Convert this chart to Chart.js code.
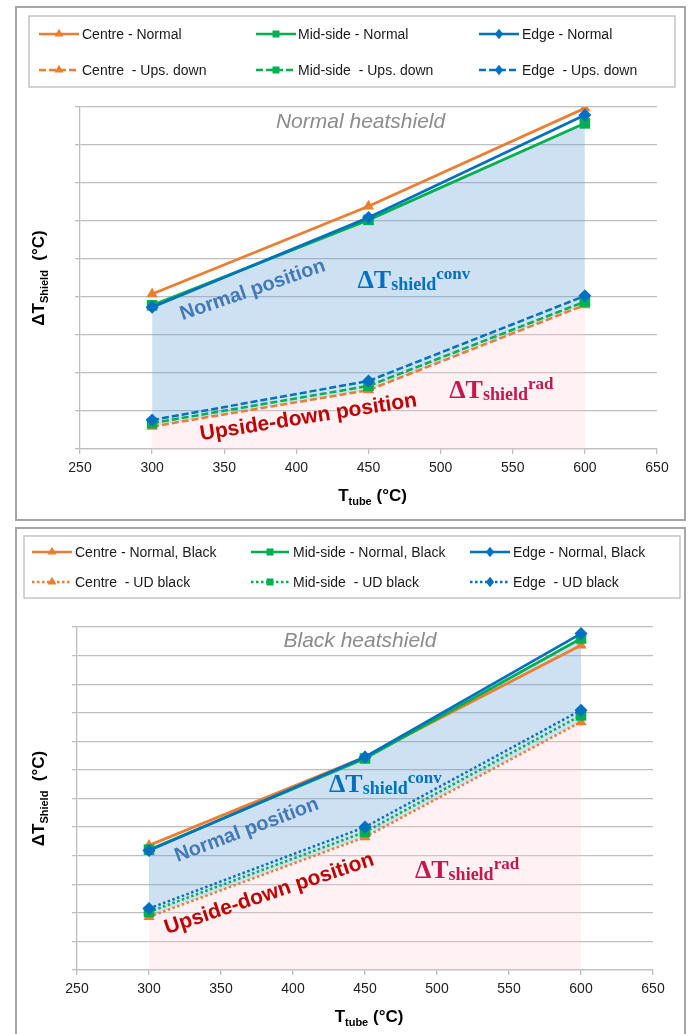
<!DOCTYPE html>
<html>
<head>
<meta charset="utf-8">
<script src="https://cdn.jsdelivr.net/npm/chart.js@4.4.1/dist/chart.umd.min.js"></script>
<style>
html, body { margin: 0; padding: 0; background: #fff; }
.wrap { position: absolute; left: 0; width: 690px; }
#w1 { top: 0; height: 524px; }
#w2 { top: 524px; height: 510px; }
</style>
</head>
<body>
<div class="wrap" id="w1"><canvas id="topChart"></canvas></div>
<div class="wrap" id="w2"><canvas id="botChart"></canvas></div>
<script>
const tubeTemps = [300, 450, 600];
const xTicks = [250, 300, 350, 400, 450, 500, 550, 600, 650];

// normal heatshield (y in gridline units, axis has no labels)
const normalCentre = [4.08, 6.39, 8.97];
const normalMid = [3.78, 6.03, 8.57];
const normalEdge = [3.73, 6.09, 8.79];
const upsCentre = [0.59, 1.55, 3.79];
const upsMid = [0.68, 1.66, 3.88];
const upsEdge = [0.76, 1.79, 4.03];
const topLabels = ['Centre - Normal', 'Mid-side - Normal', 'Edge - Normal',
  'Centre  - Ups. down', 'Mid-side  - Ups. down', 'Edge  - Ups. down'];

// black heatshield
const blackCentre = [4.36, 7.45, 11.36];
const blackMid = [4.21, 7.40, 11.60];
const blackEdge = [4.18, 7.45, 11.77];
const udCentre = [1.86, 4.65, 8.68];
const udMid = [2.03, 4.83, 8.91];
const udEdge = [2.15, 5.00, 9.09];
const botLabels = ['Centre - Normal, Black', 'Mid-side - Normal, Black', 'Edge - Normal, Black',
  'Centre  - UD black', 'Mid-side  - UD black', 'Edge  - UD black'];

const colors = ['#ED7D31', '#00B050', '#0070C0'];
const markers = ['triangle', 'rect', 'rectRot'];
const radii = [6.5, 7.5, 6.5];
const blueFill = 'rgba(91,155,213,0.30)';
const pinkFill = 'rgba(255,200,210,0.25)';
const SANS = '"Liberation Sans", Arial, sans-serif';
const SERIF = '"Liberation Serif", "Times New Roman", serif';
const X_AXIS_H = 40;

function drawMarker(ctx, style, x, y, r, color) {
  ctx.fillStyle = color;
  ctx.beginPath();
  if (style === 'triangle') {
    ctx.moveTo(x, y - r);
    ctx.lineTo(x + r * 0.87, y + r * 0.5);
    ctx.lineTo(x - r * 0.87, y + r * 0.5);
  } else if (style === 'rect') {
    ctx.rect(x - r * 0.7, y - r * 0.7, r * 1.4, r * 1.4);
  } else {
    ctx.moveTo(x, y - r);
    ctx.lineTo(x + r * 0.8, y);
    ctx.lineTo(x, y + r);
    ctx.lineTo(x - r * 0.8, y);
  }
  ctx.closePath();
  ctx.fill();
}

// draw a run of text pieces (for sub/superscripts)
function richText(ctx, parts, x, y, align) {
  let total = 0;
  parts.forEach(p => { ctx.font = p.font; p.w = ctx.measureText(p.t).width; total += p.w; });
  let cx = align === 'center' ? x - total / 2 : x;
  ctx.textAlign = 'left';
  ctx.textBaseline = 'alphabetic';
  parts.forEach(p => {
    ctx.font = p.font;
    ctx.fillText(p.t, cx, y + (p.dy || 0));
    cx += p.w;
  });
}

function deltaT(name) {
  return [
    {t: 'ΔT', font: 'bold 26px ' + SERIF},
    {t: 'shield', font: 'bold 18px ' + SERIF, dy: 2},
    {t: name, font: 'bold 17px ' + SERIF, dy: -9}
  ];
}

function decoPlugin(spec) {
  return {
    id: 'deco',
    beforeDraw(chart) {
      const ctx = chart.ctx;
      ctx.save();
      ctx.strokeStyle = '#a6a6a6';
      ctx.lineWidth = 2;
      ctx.strokeRect(...spec.frame);
      ctx.strokeStyle = '#c4c4c4';
      ctx.lineWidth = 1.5;
      ctx.strokeRect(...spec.legendBox);
      // legend entries
      chart.data.datasets.forEach((ds, i) => {
        const col = spec.cols[i % 3];
        const y = spec.rows[Math.floor(i / 3)];
        ctx.strokeStyle = ds.borderColor;
        ctx.lineWidth = 2.5;
        ctx.setLineDash(ds.borderDash || []);
        ctx.beginPath();
        ctx.moveTo(col[0], y);
        ctx.lineTo(col[1], y);
        ctx.stroke();
        ctx.setLineDash([]);
        drawMarker(ctx, ds.pointStyle, (col[0] + col[1]) / 2, y, ds.pointStyle === 'rect' ? 5 : 5.2, ds.borderColor);
        ctx.fillStyle = '#1a1a1a';
        ctx.font = '14px ' + SANS;
        ctx.textAlign = 'left';
        ctx.textBaseline = 'middle';
        ctx.fillText(ds.label, col[2], y + 1);
      });
      ctx.restore();
    },
    afterDraw(chart) {
      const ctx = chart.ctx;
      const xs = chart.scales.x, ys = chart.scales.y, area = chart.chartArea;
      ctx.save();
      // axis titles
      ctx.fillStyle = '#000';
      richText(ctx, [
        {t: 'T', font: 'bold 17px ' + SANS},
        {t: 'tube', font: 'bold 11px ' + SANS, dy: 4},
        {t: ' (°C)', font: 'bold 17px ' + SANS}
      ], (area.left + area.right) / 2 + 4, area.bottom + 52, 'center');
      ctx.save();
      ctx.translate(44, (area.top + area.bottom) / 2);
      ctx.rotate(-Math.PI / 2);
      richText(ctx, [
        {t: 'ΔT', font: 'bold 17px ' + SANS},
        {t: 'Shield', font: 'bold 11px ' + SANS, dy: 4},
        {t: '  (°C)', font: 'bold 17px ' + SANS}
      ], 0, 0, 'center');
      ctx.restore();
      // annotations
      spec.notes.forEach(n => {
        const px = xs.getPixelForValue(n.x), py = ys.getPixelForValue(n.y);
        ctx.save();
        ctx.translate(px, py);
        ctx.rotate((n.rot || 0) * Math.PI / 180);
        ctx.fillStyle = n.color;
        if (n.parts) {
          richText(ctx, n.parts, 0, 0, 'left');
        } else {
          ctx.font = n.font;
          ctx.textAlign = 'center';
          ctx.textBaseline = 'middle';
          ctx.fillText(n.text, 0, 0);
        }
        ctx.restore();
      });
      ctx.restore();
    }
  };
}

function buildChart(id, spec) {
  const datasets = spec.series.map((s, i) => ({
    label: spec.labels[i],
    data: tubeTemps.map((t, k) => ({x: t, y: s[k]})),
    borderColor: colors[i % 3],
    backgroundColor: colors[i % 3],
    pointBackgroundColor: colors[i % 3],
    pointBorderColor: colors[i % 3],
    pointBorderWidth: 0,
    pointStyle: markers[i % 3],
    pointRadius: radii[i % 3],
    pointHoverRadius: radii[i % 3],
    borderWidth: i < 3 ? 2.75 : 2.5,
    borderDash: i < 3 ? [] : spec.dash,
    tension: 0,
    fill: i === 1 ? {target: 3, above: blueFill, below: blueFill}
        : i === 3 ? {target: 'origin', above: pinkFill, below: pinkFill} : false,
    order: 6 - i
  }));

  return new Chart(document.getElementById(id), {
    type: 'line',
    data: {datasets},
    options: {
      responsive: true,
      maintainAspectRatio: false,
      animation: false,
      layout: {padding: spec.padding},
      plugins: {
        legend: {display: false},
        tooltip: {enabled: false},
        filler: {drawTime: 'beforeDatasetsDraw'}
      },
      scales: {
        x: {
          type: 'linear',
          min: 250, max: 650,
          afterBuildTicks: axis => { axis.ticks = xTicks.map(v => ({value: v})); },
          afterFit: axis => { axis.height = X_AXIS_H; },
          ticks: {color: '#222', font: {family: SANS, size: 14}, padding: 6, autoSkip: false, maxRotation: 0},
          grid: {drawOnChartArea: false, drawTicks: true, tickLength: 5, color: '#bfbfbf', lineWidth: 1.3},
          border: {color: '#bfbfbf', width: 1.3}
        },
        y: {
          min: 0, max: spec.yMax,
          afterFit: axis => { axis.width = 0; },
          ticks: {display: false, stepSize: 1},
          grid: {color: '#bfbfbf', lineWidth: 1.3, tickLength: 5},
          border: {color: '#bfbfbf', width: 1.3}
        }
      }
    },
    plugins: [decoPlugin(spec)]
  });
}

buildChart('topChart', {
  series: [normalCentre, normalMid, normalEdge, upsCentre, upsMid, upsEdge],
  labels: topLabels,
  dash: [7, 3],
  yMax: 9,
  padding: {left: 80, right: 33, top: 107, bottom: 75 - X_AXIS_H},
  frame: [16, 7, 669, 513],
  legendBox: [29, 16, 646, 71],
  cols: [[39, 79, 82], [256, 296, 298], [479, 519, 522]],
  rows: [34, 70],
  notes: [
    {text: 'Normal heatshield', x: 444.5, y: 8.61, font: 'italic 21px ' + SANS, color: '#8c8c8c'},
    {text: 'Normal position', x: 369.7, y: 4.18, rot: -19, font: 'bold 20px ' + SANS, color: '#4479b8'},
    {text: 'Upside-down position', x: 408.3, y: 0.83, rot: -9, font: 'bold 21px ' + SANS, color: '#c00000'},
    {parts: deltaT('conv'), x: 442.4, y: 4.24, color: '#0070c0'},
    {parts: deltaT('rad'), x: 506, y: 1.33, color: '#c8154b'}
  ]
});

buildChart('botChart', {
  series: [blackCentre, blackMid, blackEdge, udCentre, udMid, udEdge],
  labels: botLabels,
  dash: [2.5, 2.5],
  yMax: 12,
  padding: {left: 77, right: 37, top: 103, bottom: 64 - X_AXIS_H},
  frame: [16, 4, 669, 530],
  legendBox: [24, 12, 656, 62],
  cols: [[32, 72, 75], [251, 289, 293], [470, 510, 513]],
  rows: [28, 58],
  notes: [
    {text: 'Black heatshield', x: 446.5, y: 11.5, font: 'italic 21px ' + SANS, color: '#8c8c8c'},
    {text: 'Normal position', x: 367.9, y: 4.89, rot: -20.5, font: 'bold 20px ' + SANS, color: '#4479b8'},
    {text: 'Upside-down position', x: 383.5, y: 2.66, rot: -18.5, font: 'bold 21px ' + SANS, color: '#c00000'},
    {parts: deltaT('conv'), x: 425, y: 6.24, color: '#0070c0'},
    {parts: deltaT('rad'), x: 484.7, y: 3.21, color: '#c8154b'}
  ]
});
</script>
</body>
</html>
